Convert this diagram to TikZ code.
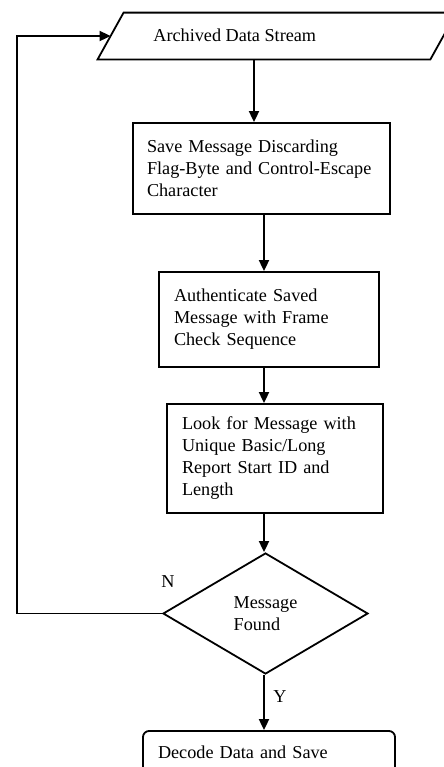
\documentclass[tikz,border=0pt]{standalone}
\usepackage{fontspec}
\setmainfont{Liberation Serif}
\usetikzlibrary{shapes.geometric,arrows.meta,calc}

\begin{document}
\begin{tikzpicture}[x=0.5pt,y=-0.5pt,
  every node/.style={font=\fontsize{9.1}{11}\selectfont},
  line/.style={line width=0.9pt},
  arr/.style={line, -{Triangle[length=5.5pt,width=5pt]}},
  procbox/.style={draw, line width=0.9pt, rectangle, inner xsep=7pt, inner ysep=0pt, align=left},
  iofield/.style={rectangle, inner sep=0pt},
  decision/.style={draw, line width=0.9pt, diamond, inner sep=0pt, align=left},
  endbox/.style={draw, line width=0.9pt, rectangle, rounded corners=3pt, inner xsep=7.5pt, align=left},
  tag/.style={inner sep=0pt}
]
\useasboundingbox (0,0) rectangle (444,767);
\clip (0,0) rectangle (444,767);

% column positions of the vertical connectors
\coordinate (colA) at (254,0);
\coordinate (colB) at (264,0);
\coordinate (loop) at (17,0);

% input stream: a parallelogram over the extent of its node
\node[iofield, minimum width=179pt, minimum height=23pt] (src) at (277,36) {};
\draw[line] (src.south west) -- ([xshift=13pt]src.north west) -- (src.north east)
  -- ([xshift=-13pt]src.south east) -- cycle;
\coordinate (srcin) at ($(src.south west)!0.5!([xshift=13pt]src.north west)$);
\node[anchor=base west, inner sep=0pt] (srctxt) at (153,41) {Archived Data Stream};

% processing steps
\node[procbox, minimum width=128.5pt, minimum height=45.5pt, text width=114.5pt] (save) at (261.5,168.5)
  {Save Message Discarding\\Flag-Byte and Control-Escape\\Character};
\node[procbox, minimum width=110pt, minimum height=47.5pt, text width=95pt, inner xsep=7.5pt] (auth) at (269,319.5)
  {Authenticate Saved\\Message with Frame\\Check Sequence};
\node[procbox, minimum width=108pt, minimum height=54.5pt, text width=93pt, inner xsep=7.5pt] (look) at (275,458.5)
  {Look for Message with\\Unique Basic/Long\\Report Start ID and\\Length};

% decision
\node[decision, minimum width=102.5pt, minimum height=60.5pt] (found) at (265.5,613.5)
  {Message\\Found};

% final step
\node[endbox, minimum width=126pt, minimum height=21pt, text width=111pt] (dec) at (269,752)
  {Decode Data and Save};

% branch labels
\node[tag] (nlab) at (168,582) {N};
\node[tag] (ylab) at (280,697) {Y};

% connectors
\draw[arr] (src.south -| colA) -- (save.north -| colA);
\draw[arr] (save.south -| colB) -- (auth.north -| colB);
\draw[arr] (auth.south -| colB) -- (look.north -| colB);
\draw[arr] (look.south -| colB) -- (found.north -| colB);
\draw[arr] (found.south -| colB) -- (dec.north -| colB);
\draw[arr] (found.west) -| (loop |- srcin) -- (srcin);
\end{tikzpicture}
\end{document}
